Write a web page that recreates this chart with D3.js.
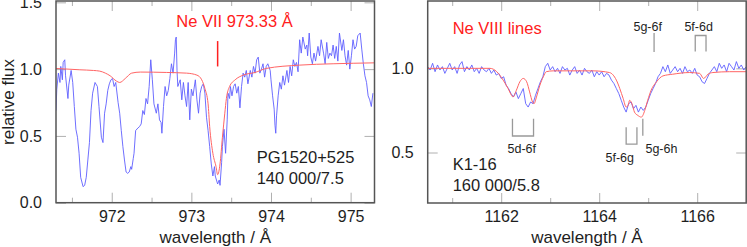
<!DOCTYPE html>
<html>
<head>
<meta charset="utf-8">
<script src="https://cdn.jsdelivr.net/npm/d3@7"></script>
<style>
  body { margin: 0; background: #fff; }
  svg text { font-family: "Liberation Sans", Arial, Helvetica, sans-serif; }
</style>
</head>
<body>
<svg id="chart" width="747" height="247"></svg>
<script>
// PG1520+525, Ne VII 973.33 region: observed [wavelength, flux] pairs
var pgObs = [
[971.30,0.69],[971.31,0.85],[971.33,0.97],[971.35,0.90],[971.36,1.02],[971.38,0.92],[971.39,1.05],[971.41,1.07],[971.42,0.95],[971.45,0.78],
[971.46,0.88],[971.49,0.99],[971.51,0.90],[971.53,0.72],[971.55,0.55],[971.57,0.49],[971.59,0.37],[971.61,0.19],[971.64,0.12],[971.66,0.13],
[971.68,0.19],[971.70,0.32],[971.72,0.45],[971.74,0.69],[971.76,0.82],[971.79,0.90],[971.82,0.87],[971.84,0.72],[971.87,0.49],[971.89,0.45],
[971.91,0.67],[971.93,0.74],[971.95,0.84],[971.97,0.89],[971.99,0.92],[972.01,0.93],[972.03,0.87],[972.05,0.90],[972.08,0.75],[972.10,0.67],
[972.12,0.54],[972.14,0.42],[972.16,0.32],[972.18,0.23],[972.20,0.22],[972.22,0.23],[972.24,0.27],[972.25,0.25],[972.27,0.33],[972.28,0.37],
[972.30,0.54],[972.33,0.56],[972.35,0.57],[972.37,0.59],[972.39,0.69],[972.41,0.66],[972.43,0.78],[972.45,0.74],[972.47,0.87],[972.49,1.07],
[972.51,0.92],[972.53,0.74],[972.56,0.67],[972.58,0.74],[972.60,0.62],[972.62,0.60],[972.63,0.52],[972.65,0.72],[972.67,0.87],[972.69,0.80],
[972.71,0.84],[972.73,0.93],[972.75,1.04],[972.77,0.97],[972.79,1.12],[972.80,1.22],[972.81,1.24],[972.82,0.99],[972.83,0.87],[972.86,0.92],
[972.88,0.77],[972.90,0.90],[972.92,0.80],[972.94,0.72],[972.96,0.90],[972.98,0.62],[973.00,0.85],[973.02,0.80],[973.05,0.92],[973.07,0.77],
[973.09,0.67],[973.11,0.82],[973.13,0.87],[973.15,0.89],[973.17,0.82],[973.19,0.64],[973.21,0.54],[973.23,0.42],[973.25,0.29],[973.27,0.20],
[973.29,0.27],[973.30,0.20],[973.33,0.14],[973.35,0.17],[973.36,0.13],[973.38,0.30],[973.39,0.42],[973.41,0.55],[973.43,0.37],[973.45,0.62],
[973.46,0.82],[973.48,0.78],[973.49,0.87],[973.51,0.80],[973.53,0.87],[973.55,0.89],[973.57,0.82],[973.59,0.87],[973.61,0.71],[973.63,0.87],
[973.65,0.97],[973.67,0.94],[973.69,0.99],[973.71,0.89],[973.74,0.99],[973.76,0.94],[973.78,1.02],[973.80,0.97],[973.82,1.07],[973.84,1.09],
[973.86,0.97],[973.88,1.00],[973.90,1.04],[973.92,0.94],[973.94,1.02],[973.96,1.04],[973.99,0.99],[974.00,0.92],[974.02,0.80],[974.04,0.70],
[974.05,0.58],[974.06,0.52],[974.07,0.65],[974.09,0.80],[974.11,0.90],[974.13,0.85],[974.15,0.95],[974.17,0.88],[974.20,0.99],[974.22,0.90],
[974.24,1.02],[974.26,0.95],[974.28,1.07],[974.30,1.02],[974.32,1.05],[974.34,0.98],[974.36,1.22],[974.38,1.12],[974.40,1.24],[974.43,1.15],
[974.45,1.18],[974.46,1.10],[974.48,1.27],[974.50,1.09],[974.52,1.04],[974.54,1.12],[974.56,1.06],[974.59,1.17],[974.61,1.10],[974.63,1.22],
[974.66,1.12],[974.68,1.04],[974.70,1.20],[974.72,1.08],[974.74,1.12],[974.76,1.10],[974.78,1.18],[974.80,1.08],[974.82,1.17],[974.84,1.06],
[974.86,1.27],[974.89,1.14],[974.91,1.22],[974.93,1.10],[974.95,1.03],[974.97,1.14],[974.99,1.00],[975.01,1.10],[975.03,1.22],[975.05,1.15],
[975.07,1.17],[975.09,1.25],[975.12,1.27],[975.14,1.15],[975.16,1.04],[975.18,0.95],[975.20,0.90],[975.22,0.80],[975.24,0.77],[975.26,0.72],
[975.28,0.82]
];

// PG1520+525 model
var pgModel = [
[971.30,1.005],[971.60,0.995],[971.77,0.99],[971.85,0.985],[971.92,0.97],[971.98,0.95],[972.06,0.91],[972.10,0.90],[972.17,0.93],[972.25,0.97],
[972.36,0.978],[972.69,0.975],[972.94,0.97],[973.07,0.955],[973.13,0.92],[973.17,0.855],[973.21,0.74],[973.23,0.57],[973.27,0.37],[973.31,0.27],
[973.33,0.21],[973.36,0.29],[973.39,0.49],[973.42,0.67],[973.44,0.78],[973.48,0.87],[973.55,0.92],[973.65,0.955],[973.80,0.975],[973.94,1.005],
[974.36,1.03],[974.78,1.04],[975.30,1.047]
];

// K1-16, Ne VIII region: observed flux on a regular wavelength grid
var k116Wave0 = 1160.5;
var k116Step = 0.05;
var k116Flux = [
1.01,0.99,1.03,0.98,1.02,0.99,1.01,0.97,1.00,1.03,
0.99,1.01,0.97,1.02,1.04,0.98,1.01,0.99,1.02,0.98,
1.00,0.97,1.01,0.99,0.98,1.00,0.97,0.99,0.96,0.97,
0.94,0.95,0.90,0.88,0.85,0.83,0.86,0.82,0.85,0.88,
0.79,0.77,0.80,0.79,0.84,0.88,0.92,0.95,1.01,1.03,
0.99,1.01,0.98,1.00,0.97,1.01,0.99,1.00,0.96,0.99,
1.01,0.97,0.99,0.96,1.00,0.98,0.97,0.99,0.95,0.98,
0.96,0.98,0.95,0.97,0.96,0.93,0.91,0.88,0.85,0.81,
0.77,0.74,0.79,0.80,0.76,0.78,0.74,0.77,0.75,0.77,
0.81,0.85,0.88,0.91,0.95,0.97,1.01,0.98,1.02,0.97,
0.99,1.01,0.98,1.00,0.97,1.01,0.98,0.99,0.97,1.00,
0.96,0.95,0.92,0.91,0.94,0.97,0.99,1.01,0.98,1.03,
1.00,1.02,0.98,1.03,1.01,0.99,1.04,1.00,1.02,0.99,
1.01
];

// K1-16 model
var k116Model = [
[1160.50,1.00],[1161.77,1.00],[1161.91,0.98],[1162.04,0.93],[1162.14,0.88],[1162.21,0.84],[1162.24,0.83],[1162.31,0.87],[1162.38,0.92],[1162.45,0.94],
[1162.52,0.92],[1162.58,0.86],[1162.64,0.80],[1162.67,0.79],[1162.72,0.83],[1162.79,0.90],[1162.86,0.95],[1162.92,0.98],[1163.06,0.985],[1163.87,0.985],
[1164.21,0.975],[1164.35,0.93],[1164.42,0.88],[1164.49,0.82],[1164.55,0.77],[1164.59,0.78],[1164.62,0.81],[1164.68,0.78],[1164.72,0.74],[1164.79,0.72],
[1164.86,0.71],[1164.89,0.72],[1164.93,0.75],[1164.99,0.81],[1165.06,0.87],[1165.17,0.92],[1165.30,0.955],[1165.50,0.965],[1165.84,0.975],[1166.05,0.97],
[1166.13,0.94],[1166.22,0.965],[1166.32,0.975],[1166.66,0.98],[1167.00,0.98]
];

// Ne VIII line identifications (wavelengths in Angstrom)
var neviiiIds = ["5d-6f", "5f-6g", "5g-6h", "5g-6f", "5f-6d"];
var neviiiWaves = [[1162.23, 1162.66], [1164.55, 1164.77], [1164.89], [1165.12], [1165.96, 1166.18]];

var neviiLine = 973.33;

// tick values
var pgXMajor = [972, 973, 974, 975];
var pgXMinor = [971.5, 972.5, 973.5, 974.5];
var pgYMajor = [0, 0.5, 1.0, 1.5];
var k116XMajor = [1162, 1164, 1166];
var k116XMinor = [1161, 1163, 1165];
var k116YMajor = [0.5, 1.0];

var svg = d3.select("#chart");
var BLUE = "#5f5fff", RED_LINE = "#ff6464", RED_TEXT = "#ff2020", INK = "#1e1e1e";

function styleAxis(sel) {
    sel.select(".domain").remove();
    sel.selectAll(".tick line").attr("stroke", "#b0b0b0").attr("stroke-width", 1);
    sel.selectAll("text").attr("font-size", 16).attr("fill", INK)
        .attr("font-family", "Liberation Sans, Arial, sans-serif");
}

/** draws one framed panel and returns its scales */
function panel(cfg) {
    var x = d3.scaleLinear().domain(cfg.xDomain).range([cfg.left, cfg.right]);
    var y = d3.scaleLinear().domain(cfg.yDomain).range([cfg.bottom, cfg.top]);
    var g = svg.append("g");

    g.append("clipPath").attr("id", cfg.id + "clip").append("rect")
        .attr("x", cfg.left).attr("y", cfg.top)
        .attr("width", cfg.right - cfg.left).attr("height", cfg.bottom - cfg.top);

    // bottom and top ticks
    g.append("g").attr("transform", "translate(0," + cfg.bottom + ")")
        .call(d3.axisBottom(x).tickValues(cfg.xMajor).tickSizeInner(-10).tickSizeOuter(0)
            .tickPadding(8).tickFormat(d3.format("d")))
        .call(styleAxis);
    g.append("g").attr("transform", "translate(0," + cfg.bottom + ")")
        .call(d3.axisBottom(x).tickValues(cfg.xMinor).tickSizeInner(-5).tickSizeOuter(0).tickFormat(""))
        .call(styleAxis);
    g.append("g").attr("transform", "translate(0," + cfg.top + ")")
        .call(d3.axisTop(x).tickValues(cfg.xMajor).tickSizeInner(-10).tickSizeOuter(0).tickFormat(""))
        .call(styleAxis);
    g.append("g").attr("transform", "translate(0," + cfg.top + ")")
        .call(d3.axisTop(x).tickValues(cfg.xMinor).tickSizeInner(-5).tickSizeOuter(0).tickFormat(""))
        .call(styleAxis);

    // left and right ticks
    g.append("g").attr("transform", "translate(" + cfg.left + ",0)")
        .call(d3.axisLeft(y).tickValues(cfg.yMajor).tickSizeInner(-10).tickSizeOuter(0)
            .tickPadding(14).tickFormat(d3.format(".1f")))
        .call(styleAxis);
    g.append("g").attr("transform", "translate(" + cfg.right + ",0)")
        .call(d3.axisRight(y).tickValues(cfg.yMajor).tickSizeInner(-10).tickSizeOuter(0).tickFormat(""))
        .call(styleAxis);

    var plot = g.append("g").attr("clip-path", "url(#" + cfg.id + "clip)");

    plot.append("path").datum(cfg.obs)
        .attr("fill", "none").attr("stroke", BLUE).attr("stroke-width", 0.9)
        .attr("d", d3.line().x(function (d) { return x(d[0]); }).y(function (d) { return y(d[1]); }));

    plot.append("path").datum(cfg.model)
        .attr("fill", "none").attr("stroke", RED_LINE).attr("stroke-width", 1)
        .attr("d", d3.line().curve(d3.curveMonotoneX)
            .x(function (d) { return x(d[0]); }).y(function (d) { return y(d[1]); }));

    g.append("rect")
        .attr("x", cfg.left).attr("y", cfg.top)
        .attr("width", cfg.right - cfg.left).attr("height", cfg.bottom - cfg.top)
        .attr("fill", "none").attr("stroke", "#555").attr("stroke-width", 1.5);

    g.append("text")
        .attr("x", (cfg.left + cfg.right) / 2).attr("y", cfg.bottom + 40)
        .attr("text-anchor", "middle").attr("font-size", 17).attr("fill", INK)
        .text("wavelength / Å");

    return { x: x, y: y, g: g };
}

// left panel
var left = panel({
    id: "pg", left: 56, right: 374.5, top: 1, bottom: 202.7,
    xDomain: [971.3, 975.3], yDomain: [0, 1.51],
    xMajor: pgXMajor, xMinor: pgXMinor, yMajor: pgYMajor,
    obs: pgObs, model: pgModel
});

svg.append("text")
    .attr("transform", "translate(14,102) rotate(-90)")
    .attr("text-anchor", "middle").attr("font-size", 17).attr("fill", INK)
    .text("relative flux");

left.g.append("line")
    .attr("x1", left.x(neviiLine)).attr("x2", left.x(neviiLine))
    .attr("y1", left.y(1.02)).attr("y2", left.y(1.21))
    .attr("stroke", RED_TEXT).attr("stroke-width", 1.5);
left.g.append("text")
    .attr("x", left.x(972.81)).attr("y", left.y(1.315))
    .attr("font-size", 16.5).attr("fill", RED_TEXT)
    .text("Ne VII " + neviiLine.toFixed(2) + " Å");
left.g.append("text")
    .attr("x", left.x(973.82)).attr("y", left.y(0.297))
    .attr("font-size", 16.5).attr("fill", INK).text("PG1520+525");
left.g.append("text")
    .attr("x", left.x(973.82)).attr("y", left.y(0.14))
    .attr("font-size", 16.5).attr("fill", INK).text("140 000/7.5");

// right panel
var k116Obs = k116Flux.map(function (f, i) { return [k116Wave0 + i * k116Step, f]; });
var right = panel({
    id: "k1", left: 427.7, right: 746.2, top: 1, bottom: 203,
    xDomain: [1160.5, 1167], yDomain: [0.2, 1.4],
    xMajor: k116XMajor, xMinor: k116XMinor, yMajor: k116YMajor,
    obs: k116Obs, model: k116Model
});

right.g.append("text")
    .attr("x", right.x(1161.01)).attr("y", right.y(1.204))
    .attr("font-size", 16.5).attr("fill", RED_TEXT).text("Ne VIII lines");
right.g.append("text")
    .attr("x", right.x(1161.01)).attr("y", right.y(0.396))
    .attr("font-size", 16.5).attr("fill", INK).text("K1-16");
right.g.append("text")
    .attr("x", right.x(1161.01)).attr("y", right.y(0.271))
    .attr("font-size", 16.5).attr("fill", INK).text("160 000/5.8");

// line identification marks: bracket tip/base and label baseline in flux, label centre in Angstrom
var idLayout = {
    "5d-6f": { tip: 0.70, base: 0.598, label: 0.50, at: 1162.42 },
    "5f-6g": { tip: 0.65, base: 0.55, label: 0.446, at: 1164.42 },
    "5g-6h": { tip: 0.70, base: 0.60, label: 0.50, at: 1165.27 },
    "5g-6f": { tip: 1.097, base: 1.21, label: 1.22, at: 1164.99 },
    "5f-6d": { tip: 1.10, base: 1.195, label: 1.22, at: 1166.03 }
};

neviiiIds.forEach(function (id, i) {
    var w = neviiiWaves[i], lay = idLayout[id];
    var mark = right.g.append("g").attr("stroke", "#999").attr("stroke-width", 1.3).attr("fill", "none");
    if (w.length === 2) {
        mark.append("path").attr("d", d3.line()([
            [right.x(w[0]), right.y(lay.tip)], [right.x(w[0]), right.y(lay.base)],
            [right.x(w[1]), right.y(lay.base)], [right.x(w[1]), right.y(lay.tip)]
        ]));
    } else {
        mark.append("line")
            .attr("x1", right.x(w[0])).attr("x2", right.x(w[0]))
            .attr("y1", right.y(lay.tip)).attr("y2", right.y(lay.base));
    }
    right.g.append("text")
        .attr("x", right.x(lay.at)).attr("y", right.y(lay.label))
        .attr("text-anchor", "middle").attr("font-size", 12.5).attr("fill", INK)
        .text(id);
});
</script>
</body>
</html>
